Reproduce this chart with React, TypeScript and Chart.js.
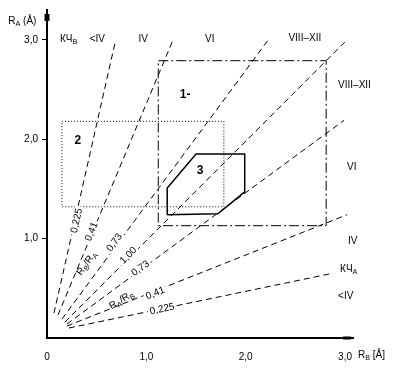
import { useEffect, useRef } from "react";
import { Chart, registerables } from "chart.js";

Chart.register(...registerables);

const FONT = '"Liberation Sans", Arial, sans-serif';

// Axis ticks
const xTickValues = [0, 1, 2, 3];
const xTickLabels = ["0", "1,0", "2,0", "3,0"];
const yTickValues = [1, 2, 3];
const yTickLabels = ["1,0", "2,0", "3,0"];

// Ratio lines (start / end points)
const ratioNames = ["RB/RA 0,225", "RB/RA 0,41", "RB/RA 0,73", "1,00", "RA/RB 0,73", "RA/RB 0,41", "RA/RB 0,225"];
const ratioStartX = [0.07, 0.11, 0.15, 0.18, 0.2, 0.2, 0.22];
const ratioStartY = [0.25, 0.23, 0.19, 0.16, 0.14, 0.12, 0.1];
const ratioEndX = [0.685, 1.26, 2.22, 3.0, 2.99, 3.02, 2.87];
const ratioEndY = [2.97, 2.98, 2.99, 2.98, 2.19, 1.24, 0.65];

// Regions
const region1X = [1.12, 2.81, 2.81, 1.12, 1.12];
const region1Y = [2.79, 2.79, 1.13, 1.13, 2.79];
const region2X = [0.15, 1.78, 1.78, 0.15, 0.15];
const region2Y = [2.18, 2.18, 1.32, 1.32, 2.18];
const region3X = [1.21, 1.21, 1.5, 1.99, 1.99, 1.72, 1.21];
const region3Y = [1.24, 1.51, 1.85, 1.85, 1.47, 1.25, 1.24];

// Text annotations (data coordinates)
const zoneLabels = [
  { text: "КЧ_{В}", x: 0.13, y: 3.01 },
  { text: "<IV", x: 0.43, y: 3.01 },
  { text: "IV", x: 0.92, y: 3.01 },
  { text: "VI", x: 1.59, y: 3.01 },
  { text: "VIII–XII", x: 2.43, y: 3.02 },
  { text: "VIII–XII", x: 2.93, y: 2.54 },
  { text: "VI", x: 3.02, y: 1.72 },
  { text: "IV", x: 3.03, y: 0.97 },
  { text: "КЧ_{А}", x: 2.95, y: 0.69 },
  { text: "<IV", x: 2.93, y: 0.42 },
];
const regionLabels = [
  { text: "1-", x: 1.39, y: 2.45 },
  { text: "2", x: 0.31, y: 1.99 },
  { text: "3", x: 1.54, y: 1.68 },
];
const lineLabels = [
  { text: "0,225", x: 0.3, y: 1.18, angle: -77, bg: true },
  { text: "0,41", x: 0.45, y: 1.07, angle: -68, bg: true },
  { text: "R_{В}/R_{А}", x: 0.4, y: 0.75, angle: -55, bg: false },
  { text: "0,73", x: 0.68, y: 0.96, angle: -54, bg: true },
  { text: "1,00", x: 0.82, y: 0.83, angle: -45, bg: true },
  { text: "0,73", x: 0.94, y: 0.7, angle: -36, bg: true },
  { text: "R_{А}/R_{В}", x: 0.75, y: 0.38, angle: -31, bg: false },
  { text: "0,41", x: 1.09, y: 0.45, angle: -22, bg: true },
  { text: "0,225", x: 1.16, y: 0.29, angle: -12, bg: true },
];
const axisTitles = [
  { text: "R_{А} (Å)", x: -0.39, y: 3.19 },
  { text: "R_{В} [Å]", x: 3.13, y: -0.17 },
];

type Part = { t: string; sub: boolean };
function parse(s: string): Part[] {
  const parts: Part[] = [];
  const re = /_\{([^}]*)\}/g;
  let last = 0;
  let m: RegExpExecArray | null;
  while ((m = re.exec(s))) {
    if (m.index > last) parts.push({ t: s.slice(last, m.index), sub: false });
    parts.push({ t: m[1], sub: true });
    last = m.index + m[0].length;
  }
  if (last < s.length) parts.push({ t: s.slice(last), sub: false });
  return parts;
}
function fontFor(size: number, sub: boolean, weight: string) {
  return `${weight} ${sub ? size * 0.72 : size}px ${FONT}`;
}
function widthOf(ctx: CanvasRenderingContext2D, parts: Part[], size: number, weight = "normal") {
  let w = 0;
  for (const p of parts) {
    ctx.font = fontFor(size, p.sub, weight);
    w += ctx.measureText(p.t).width;
  }
  return w;
}
function drawRich(
  ctx: CanvasRenderingContext2D,
  s: string,
  x: number,
  y: number,
  size: number,
  align: "left" | "center",
  weight = "normal"
) {
  const parts = parse(s);
  const total = widthOf(ctx, parts, size, weight);
  let cx = align === "center" ? x - total / 2 : x;
  ctx.textAlign = "left";
  ctx.textBaseline = "middle";
  for (const p of parts) {
    ctx.font = fontFor(size, p.sub, weight);
    ctx.fillText(p.t, cx, p.sub ? y + size * 0.3 : y);
    cx += ctx.measureText(p.t).width;
  }
  return total;
}

const annotPlugin = {
  id: "annot",
  afterDatasetsDraw(chart: any) {
    const ctx: CanvasRenderingContext2D = chart.ctx;
    const xs = chart.scales.x;
    const ys = chart.scales.y;
    ctx.save();
    ctx.fillStyle = "#000";
    // axis end marks
    const ax0 = xs.getPixelForValue(0);
    const ay0 = ys.getPixelForValue(0);
    ctx.fillRect(ax0 - 2.5, ys.getPixelForValue(3.26), 5, 7);
    ctx.fillRect(xs.getPixelForValue(2.98), ay0 - 1.5, 8, 3);

    for (const l of lineLabels) {
      const px = xs.getPixelForValue(l.x);
      const py = ys.getPixelForValue(l.y);
      ctx.save();
      ctx.translate(px, py);
      ctx.rotate((l.angle * Math.PI) / 180);
      const w = widthOf(ctx, parse(l.text), 10);
      if (l.bg) {
        ctx.fillStyle = "#fff";
        ctx.fillRect(-w / 2 - 2, -5, w + 4, 10);
      }
      ctx.fillStyle = "#000";
      drawRich(ctx, l.text, 0, 0, 10, "center");
      ctx.restore();
    }
    for (const l of zoneLabels) {
      drawRich(ctx, l.text, xs.getPixelForValue(l.x), ys.getPixelForValue(l.y), 10, "left");
    }
    for (const l of regionLabels) {
      drawRich(ctx, l.text, xs.getPixelForValue(l.x), ys.getPixelForValue(l.y), 12, "center", "bold");
    }
    for (const l of axisTitles) {
      drawRich(ctx, l.text, xs.getPixelForValue(l.x), ys.getPixelForValue(l.y), 10, "left");
    }
    ctx.restore();
  },
};

function pts(xa: number[], ya: number[]) {
  return xa.map((x, i) => ({ x, y: ya[i] }));
}

export default function App() {
  const ref = useRef<HTMLCanvasElement | null>(null);
  useEffect(() => {
    document.body.style.margin = "0";
    if (!ref.current) return;
    const lineSets = ratioNames.map((name, i) => ({
      label: name,
      data: [
        { x: ratioStartX[i], y: ratioStartY[i] },
        { x: ratioEndX[i], y: ratioEndY[i] },
      ],
      showLine: true,
      borderColor: "#000",
      borderWidth: 1,
      borderDash: [6, 4],
      pointRadius: 0,
      fill: false,
    }));
    const chart = new Chart(ref.current, {
      type: "scatter",
      data: {
        datasets: [
          ...lineSets,
          {
            label: "1",
            data: pts(region1X, region1Y),
            showLine: true,
            borderColor: "#000",
            borderWidth: 1,
            borderDash: [10, 3, 2, 3],
            pointRadius: 0,
          },
          {
            label: "2",
            data: pts(region2X, region2Y),
            showLine: true,
            borderColor: "#000",
            borderWidth: 1,
            borderDash: [1, 2],
            pointRadius: 0,
          },
          {
            label: "3",
            data: pts(region3X, region3Y),
            showLine: true,
            borderColor: "#000",
            borderWidth: 1.5,
            pointRadius: 0,
          },
        ] as any,
      },
      options: {
        animation: false,
        responsive: false,
        layout: { padding: { top: 8, right: 47, left: 0, bottom: 0 } },
        plugins: { legend: { display: false }, tooltip: { enabled: false } },
        scales: {
          x: {
            type: "linear",
            min: 0,
            max: 3.08,
            afterFit: (s: any) => {
              s.height = 37;
            },
            afterBuildTicks: (s: any) => {
              s.ticks = xTickValues.map((v) => ({ value: v }));
            },
            ticks: {
              autoSkip: false,
              maxRotation: 0,
              padding: 5,
              color: "#000",
              font: { family: FONT, size: 10 },
              callback: (_v: any, i: number) => xTickLabels[i],
            },
            grid: { display: false },
            border: { display: true, color: "#000", width: 2 },
          },
          y: {
            type: "linear",
            min: 0,
            max: 3.3,
            afterFit: (s: any) => {
              s.width = 47;
            },
            afterBuildTicks: (s: any) => {
              s.ticks = yTickValues.map((v) => ({ value: v }));
            },
            ticks: {
              autoSkip: false,
              padding: 4,
              color: "#000",
              font: { family: FONT, size: 10 },
              callback: (_v: any, i: number) => yTickLabels[i],
            },
            grid: {
              display: true,
              drawOnChartArea: false,
              drawTicks: true,
              tickLength: 5,
              color: "#000",
              lineWidth: 1,
            },
            border: { display: true, color: "#000", width: 2 },
          },
        },
      } as any,
      plugins: [annotPlugin],
    });
    return () => chart.destroy();
  }, []);
  return (
    <div style={{ width: 400, height: 375, background: "#fff" }}>
      <canvas ref={ref} width={400} height={375} style={{ display: "block" }} />
    </div>
  );
}
